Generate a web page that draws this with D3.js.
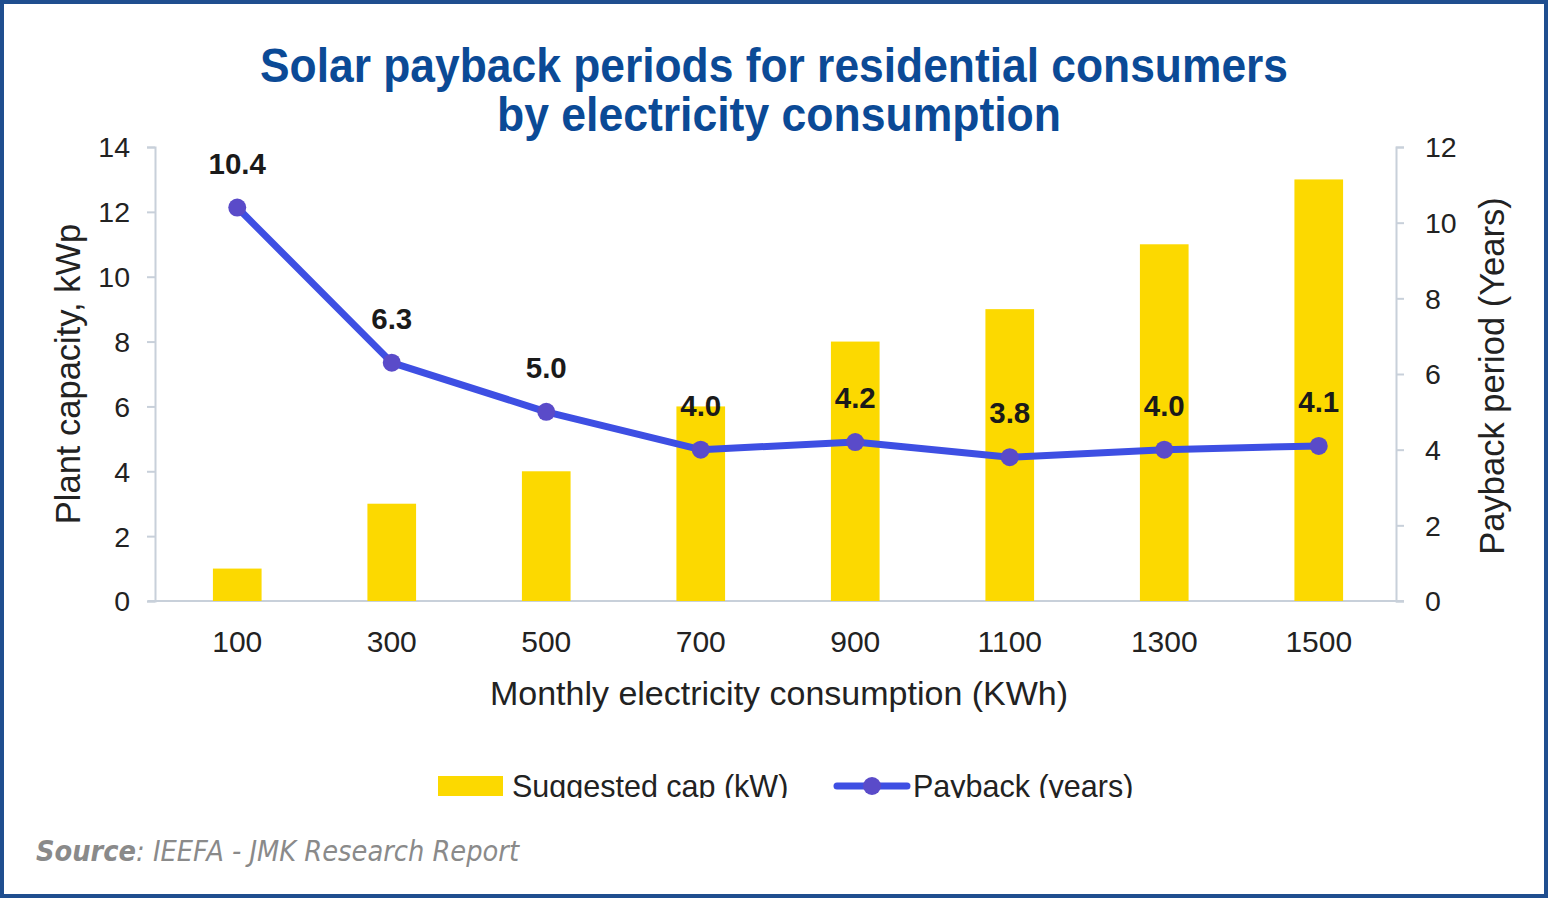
<!DOCTYPE html>
<head>
<meta charset="utf-8">
<style>
    body { margin: 0; background: #fff; }
    text { font-family: "Liberation Sans", Arial, sans-serif; }
    .axis path, .axis line { stroke: #c8d0da; stroke-width: 2; }
    .axis text { fill: #222; font-size: 28.5px; }
</style>
</head>
<body>
    <script src="https://d3js.org/d3.v7.min.js"></script>
    <script>

    ///////////////////////////
    ////////// DATA //////////
    ///////////////////////////

    const consumption = ['100', '300', '500', '700', '900', '1100', '1300', '1500'];
    const capacity = [1, 3, 4, 6, 8, 9, 11, 13];
    const payback = [10.4, 6.3, 5.0, 4.0, 4.2, 3.8, 4.0, 4.1];
    const leftTicks = [0, 2, 4, 6, 8, 10, 12, 14];
    const rightTicks = [0, 2, 4, 6, 8, 10, 12];

    ///////////////////////////
    ////////// SETUP //////////
    ///////////////////////////

    const W = 1548, H = 898;
    const plot = { left: 155, right: 1396, top: 147, bottom: 601 };

    let svg = d3.select('body').append('svg')
        .attr('width', W)
        .attr('height', H);

    svg.append('rect')
        .attr('x', 2).attr('y', 2)
        .attr('width', W - 4).attr('height', H - 4)
        .attr('fill', '#fff')
        .attr('stroke', '#1f4e8f')
        .attr('stroke-width', 4);

    // title
    const title = svg.append('g')
        .attr('fill', '#0b4a96')
        .style('font-family', '"DejaVu Sans Condensed", "DejaVu Sans", sans-serif')
        .style('font-weight', 'bold')
        .style('font-size', '48px')
        .attr('text-anchor', 'middle');
    title.append('text').attr('x', 774).attr('y', 82)
        .attr('textLength', 1028).attr('lengthAdjust', 'spacingAndGlyphs')
        .text('Solar payback periods for residential consumers');
    title.append('text').attr('x', 779).attr('y', 131)
        .attr('textLength', 564).attr('lengthAdjust', 'spacingAndGlyphs')
        .text('by electricity consumption');

    //////////////////////////
    ////////// SCALES ////////
    //////////////////////////

    let x = d3.scaleBand().domain(consumption)
        .range([160, plot.right])
        .paddingInner(0.685).paddingOuter(0.3425);
    let yLeft = d3.scaleLinear().domain([0, 14]).range([plot.bottom, plot.top]);
    let yRight = d3.scaleLinear().domain([0, 12]).range([plot.bottom, plot.top]);

    //////////////////////////
    ////////// AXES //////////
    //////////////////////////

    svg.append('g').attr('class', 'axis')
        .attr('transform', 'translate(' + plot.left + ',0)')
        .call(d3.axisLeft(yLeft).tickValues(leftTicks).tickSize(8).tickPadding(17))
        .selectAll('text').attr('dy', '0.35em');

    svg.append('g').attr('class', 'axis')
        .attr('transform', 'translate(' + plot.right + ',0)')
        .call(d3.axisRight(yRight).tickValues(rightTicks).tickSize(8).tickPadding(21))
        .selectAll('text').attr('dy', '0.35em');

    let xAxis = svg.append('g').attr('class', 'axis')
        .attr('transform', 'translate(0,' + plot.bottom + ')')
        .call(d3.axisBottom(x).tickSize(0).tickPadding(30));
    xAxis.select('.domain').attr('d', 'M' + (plot.left - 7) + ',0H' + (plot.right + 8));
    xAxis.selectAll('text').style('font-size', '30px');

    svg.append('text')
        .attr('transform', 'translate(80,374) rotate(-90)')
        .attr('text-anchor', 'middle')
        .style('font-size', '34.5px').attr('fill', '#222')
        .text('Plant capacity, kWp');

    svg.append('text')
        .attr('transform', 'translate(1504,376) rotate(-90)')
        .attr('text-anchor', 'middle')
        .style('font-size', '34.5px').attr('fill', '#222')
        .text('Payback period (Years)');

    svg.append('text')
        .attr('x', 779).attr('y', 705)
        .attr('text-anchor', 'middle')
        .style('font-size', '34px').attr('fill', '#222')
        .text('Monthly electricity consumption (KWh)');

    //////////////////////////
    ////////// BARS //////////
    //////////////////////////

    svg.append('g').selectAll('rect').data(capacity)
        .enter().append('rect')
            .attr('x', (d, i) => x(consumption[i]))
            .attr('width', x.bandwidth())
            .attr('y', d => yLeft(d))
            .attr('height', d => plot.bottom - yLeft(d))
            .attr('fill', '#fcd900');

    //////////////////////////
    ////////// LINE //////////
    //////////////////////////

    const cx = i => x(consumption[i]) + x.bandwidth() / 2;

    let line = d3.line()
        .x((d, i) => cx(i))
        .y(d => yRight(d));

    svg.append('path').datum(payback)
        .attr('d', line)
        .attr('fill', 'none')
        .attr('stroke', '#3e4fe3')
        .attr('stroke-width', 7)
        .attr('stroke-linejoin', 'round');

    svg.append('g').selectAll('circle').data(payback)
        .enter().append('circle')
            .attr('cx', (d, i) => cx(i))
            .attr('cy', d => yRight(d))
            .attr('r', 9)
            .attr('fill', '#5a4bc9');

    svg.append('g').selectAll('text').data(payback)
        .enter().append('text')
            .attr('x', (d, i) => cx(i))
            .attr('y', d => yRight(d) - 34)
            .attr('text-anchor', 'middle')
            .style('font-size', '29.5px').style('font-weight', 'bold')
            .attr('fill', '#1a1a1a')
            .text(d => d.toFixed(1));

    ////////////////////////////
    ////////// LEGEND //////////
    ////////////////////////////

    svg.append('clipPath').attr('id', 'legclip')
        .append('rect').attr('x', 0).attr('y', 0).attr('width', W).attr('height', 798);

    let legend = svg.append('g').attr('clip-path', 'url(#legclip)');
    legend.append('rect')
        .attr('x', 438).attr('y', 776).attr('width', 65).attr('height', 20)
        .attr('fill', '#fcd900');
    legend.append('text')
        .attr('x', 512).attr('y', 797)
        .style('font-size', '30.5px').attr('fill', '#222')
        .text('Suggested cap (kW)');
    legend.append('line')
        .attr('x1', 837).attr('x2', 907).attr('y1', 786).attr('y2', 786)
        .attr('stroke', '#3e4fe3').attr('stroke-width', 7).attr('stroke-linecap', 'round');
    legend.append('circle')
        .attr('cx', 872).attr('cy', 786).attr('r', 9).attr('fill', '#5a4bc9');
    legend.append('text')
        .attr('x', 913).attr('y', 797)
        .style('font-size', '30.5px').attr('fill', '#222')
        .text('Payback (years)');

    ////////////////////////////
    ////////// SOURCE //////////
    ////////////////////////////

    let src = svg.append('text')
        .attr('x', 36).attr('y', 861)
        .attr('textLength', 483).attr('lengthAdjust', 'spacingAndGlyphs')
        .style('font-family', '"DejaVu Sans Condensed", "DejaVu Sans", sans-serif')
        .style('font-size', '28px').style('font-style', 'italic')
        .attr('fill', '#8a8a8a');
    src.append('tspan').style('font-weight', 'bold').text('Source');
    src.append('tspan').text(': IEEFA - JMK Research Report');

    </script>
</body>
